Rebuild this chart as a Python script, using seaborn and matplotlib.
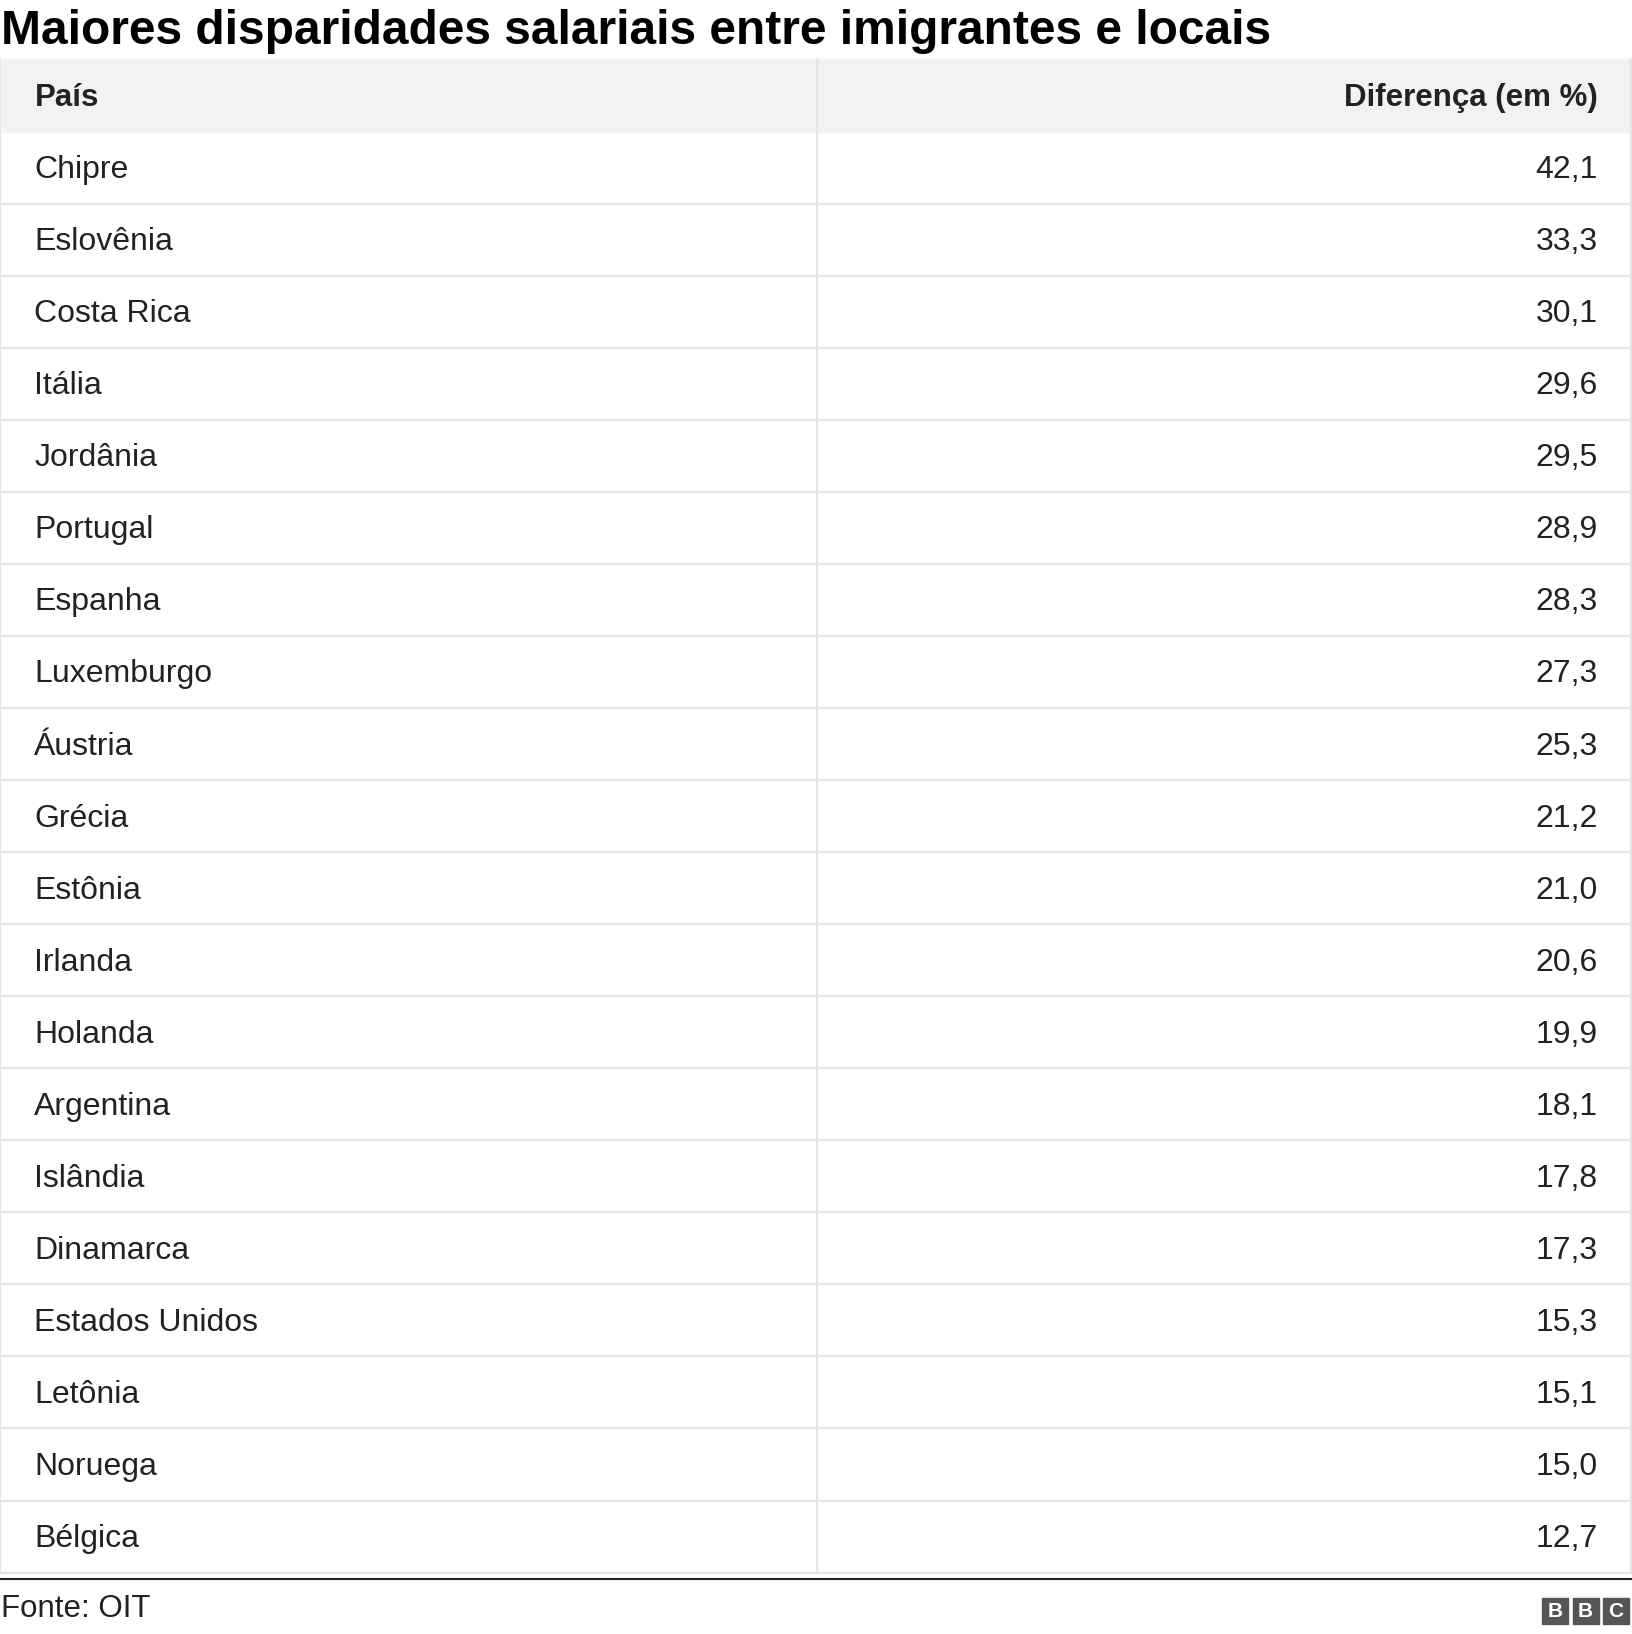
import matplotlib
matplotlib.use("Agg")
import matplotlib.pyplot as plt
import seaborn as sns
from matplotlib.patches import Rectangle

sns.set_style("white")
plt.rcParams['font.family'] = ['Liberation Sans', 'DejaVu Sans']

title = "Maiores disparidades salariais entre imigrantes e locais"
headers = ["País", "Diferença (em %)"]
countries = ["Chipre", "Eslovênia", "Costa Rica", "Itália", "Jordânia", "Portugal",
             "Espanha", "Luxemburgo", "Áustria", "Grécia", "Estônia", "Irlanda",
             "Holanda", "Argentina", "Islândia", "Dinamarca", "Estados Unidos",
             "Letônia", "Noruega", "Bélgica"]
values = [42.1, 33.3, 30.1, 29.6, 29.5, 28.9, 28.3, 27.3, 25.3, 21.2, 21.0, 20.6,
          19.9, 18.1, 17.8, 17.3, 15.3, 15.1, 15.0, 12.7]
source = "Fonte: OIT"

W, H = 1566, 1568
fig = plt.figure(figsize=(16.32, 16.34), dpi=100)
ax = fig.add_axes([0, 0, 1, 1])
ax.set_xlim(0, W)
ax.set_ylim(H, 0)
ax.axis("off")

ax.text(1, 30, title, fontsize=34.5, fontweight="bold", va="center", ha="left", color="#000")

top, hh, rh = 57, 70, 69.1
ax.add_patch(Rectangle((0, top), W, hh, color="#f2f2f2", zorder=0))
ax.text(33, top + hh / 2 + 2, headers[0], fontsize=22.5, fontweight="bold", va="center", color="#222")
ax.text(1533, top + hh / 2 + 2, headers[1], fontsize=22.5, fontweight="bold", va="center", ha="right", color="#222")

y0 = top + hh
for i, (c, v) in enumerate(zip(countries, values)):
    yc = y0 + rh * i + rh / 2 + 2
    ax.text(33, yc, c, fontsize=23, va="center", color="#222")
    ax.text(1533, yc, f"{v:.1f}".replace(".", ","), fontsize=23, va="center", ha="right", color="#222")
    ax.plot([0, W], [y0 + rh * (i + 1)] * 2, color="#e6e6e6", lw=1.5)
yend = y0 + rh * len(countries)
ax.plot([784, 784], [top, yend], color="#e6e6e6", lw=1.5)
ax.plot([0, 0], [top, yend], color="#e6e6e6", lw=1.5)
ax.plot([W - 1, W - 1], [top, yend], color="#e6e6e6", lw=1.5)
ax.plot([0, W], [1515, 1515], color="#222", lw=1.5)
ax.text(1, 1544, source, fontsize=22.5, va="center", color="#222")

for k, ch in enumerate("BBC"):
    x = 1480 + k * 29
    ax.add_patch(Rectangle((x, 1533), 25, 25, color="#555"))
    ax.text(x + 12.5, 1546, ch, fontsize=15, fontweight="bold", color="white", ha="center", va="center")

fig.savefig("out.png", dpi=100)
